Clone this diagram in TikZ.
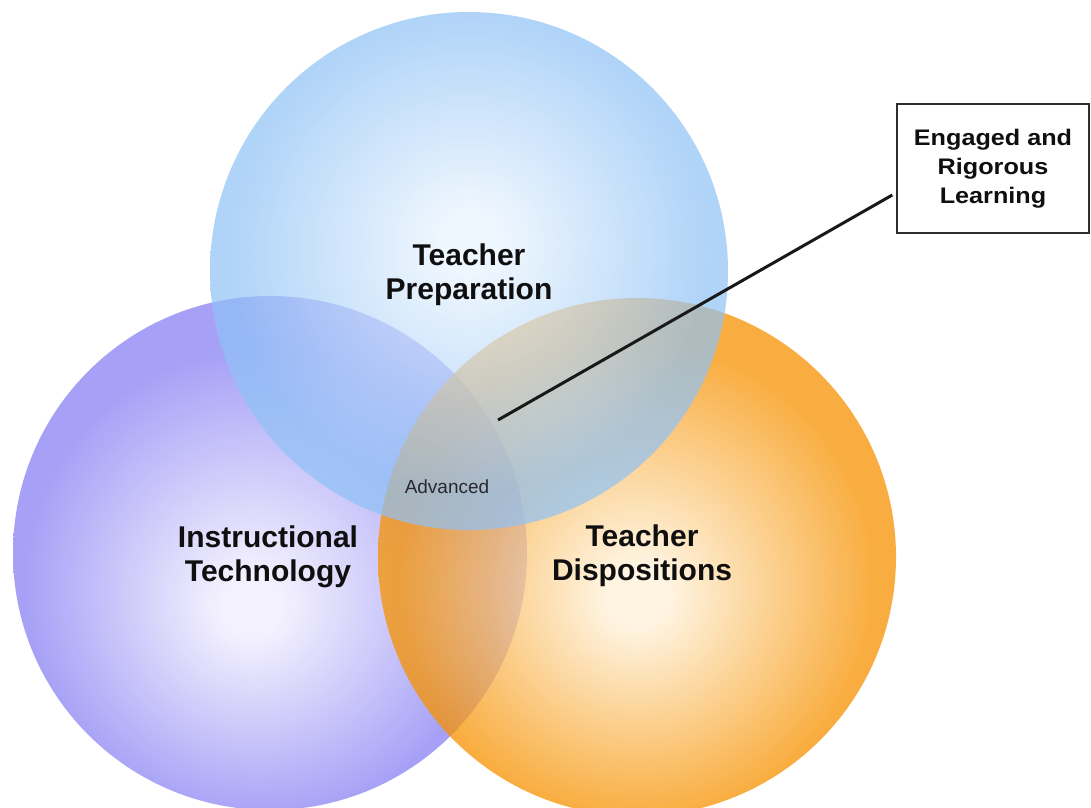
\documentclass[tikz,border=0pt]{standalone}
\usepackage{fontspec}
\setmainfont{Liberation Sans}
\newfontfamily\widefont{Liberation Sans}[FakeStretch=1.12]
\usetikzlibrary{calc}

% circle palette: pale core, saturated rim
\definecolor{purpleCore}{RGB}{243,241,254}
\definecolor{purpleRim}{RGB}{166,160,246}
\definecolor{orangeCore}{RGB}{255,241,216}
\definecolor{orangeRim}{RGB}{247,146,0}
\definecolor{blueCore}{RGB}{232,243,254}
\definecolor{blueRim}{RGB}{143,194,246}
\definecolor{labelInk}{RGB}{15,15,15}
\definecolor{smallInk}{RGB}{40,40,48}
\definecolor{frameInk}{RGB}{45,45,45}

% 25bp of each shading lands on the circle's own radius
\pgfdeclareradialshading{purpleball}{\pgfpoint{-2bp}{-5.5bp}}{%
  color(0bp)=(purpleCore); color(3bp)=(purpleCore);
  color(23bp)=(purpleRim); color(50bp)=(purpleRim)}
\pgfdeclareradialshading{orangeball}{\pgfpoint{0bp}{-4bp}}{%
  color(0bp)=(orangeCore); color(3bp)=(orangeCore);
  color(23bp)=(orangeRim); color(50bp)=(orangeRim)}
\pgfdeclareradialshading{blueball}{\pgfpoint{0bp}{3bp}}{%
  color(0bp)=(blueCore); color(3bp)=(blueCore);
  color(23bp)=(blueRim); color(50bp)=(blueRim)}

\tikzset{
  mainlabel/.style={align=center, text=labelInk, inner sep=0pt,
    font=\fontsize{30}{34}\selectfont\bfseries},
  smalllabel/.style={text=smallInk, inner sep=0pt,
    font=\fontsize{19}{22}\selectfont},
  notebox/.style={draw=frameInk, line width=1.4pt, fill=white, align=center,
    minimum width=192pt, minimum height=129pt, text=labelInk,
    font=\widefont\fontsize{22.5}{29}\selectfont\bfseries},
  leader/.style={draw=black!90, line width=3pt},
}

\begin{document}
\begin{tikzpicture}[x=1pt, y=-1pt]
  \useasboundingbox[fill=white] (0,0) rectangle (1091,807);

  % the three sets, bottom to top
  \shade[shading=purpleball] (270,553) circle[radius=257pt];
  \shade[shading=orangeball, fill opacity=0.75] (637,557) circle[radius=259pt];
  \shade[shading=blueball, fill opacity=0.7] (469,271) circle[radius=259pt];

  % set names
  \node[mainlabel] (prep) at (469,275) {Teacher\\Preparation};
  \node[mainlabel] (tech) at (268,557) {Instructional\\Technology};
  \node[mainlabel] (disp) at (642,556) {Teacher\\Dispositions};
  \node[smalllabel] (adv) at (447,487) {Advanced};

  % call-out for the common core
  \node[notebox] (note) at (993,168.5) {Engaged and\\Rigorous\\Learning};
  \coordinate (tip) at (498,420);
  \draw[leader] (tip) -- ($(note.west)+(-4,26.5)$);
\end{tikzpicture}
\end{document}
